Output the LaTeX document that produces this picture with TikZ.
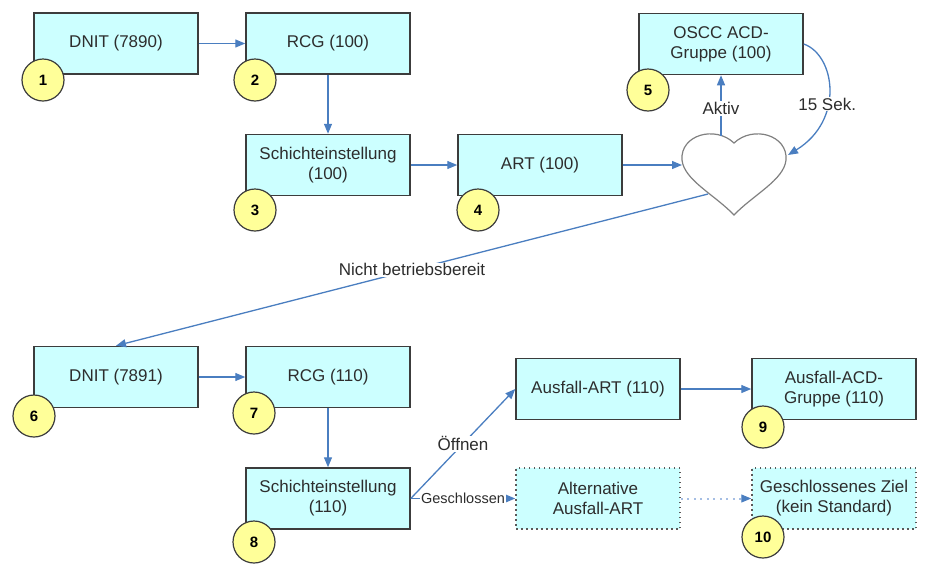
\documentclass[tikz,border=0pt]{standalone}
\usepackage{fontspec}
\setmainfont{Liberation Sans}
\usetikzlibrary{arrows.meta}

\definecolor{boxfill}{RGB}{204,255,255}
\definecolor{numfill}{RGB}{255,255,153}
\definecolor{linkblue}{RGB}{74,126,192}
\definecolor{dotblue}{RGB}{165,190,228}
\definecolor{edgegray}{RGB}{60,60,60}
\definecolor{textgray}{RGB}{45,45,45}

\begin{document}
\begin{tikzpicture}[x=1pt,y=-1pt,
	box/.style={draw=edgegray,line width=1.5pt,fill=boxfill,minimum width=164pt,minimum height=61pt,align=center,text=textgray,font=\fontsize{17}{20}\selectfont},
	altbox/.style={box,draw=edgegray!85,dash pattern=on 1.5pt off 3.5pt},
	num/.style={circle,draw=edgegray,line width=1.2pt,fill=numfill,minimum size=42pt,inner sep=0pt,text=black,font=\fontsize{15}{18}\selectfont\bfseries},
	link/.style={draw=linkblue,line width=1.3pt,-{Triangle[length=10pt,width=8pt]}},
	tag/.style={fill=white,inner sep=1pt,text=textgray,font=\fontsize{17}{20}\selectfont}]
	\useasboundingbox (0,0) rectangle (928,563);
	
	%boxes
	\node[box] (dnitA)   at (116,43.5) {DNIT (7890)};
	\node[box] (rcgA)    at (328,43.5) {RCG (100)};
	\node[box] (schichtA) at (328,165) {Schichteinstellung\\(100)};
	\node[box] (artA)    at (540,165) {ART (100)};
	\node[box] (oscc)    at (721,44)   {OSCC ACD-\\Gruppe (100)};
	\node[box] (dnitB)   at (116,377)  {DNIT (7891)};
	\node[box] (rcgB)    at (328,377)  {RCG (110)};
	\node[box] (schichtB) at (328,498.5) {Schichteinstellung\\(110)};
	\node[box] (ausfart) at (598,389)  {Ausfall-ART (110)};
	\node[box] (ausfacd) at (834,389)  {Ausfall-ACD-\\Gruppe (110)};
	\node[altbox] (altart) at (598,498.5) {Alternative\\Ausfall-ART};
	\node[altbox] (ziel)   at (834,498.5) {Geschlossenes Ziel\\(kein Standard)};
	
	%heart
	\draw[draw=gray,line width=1.2pt,fill=white] (734,143) .. controls (715,125) and (680,135) .. (682,160) .. controls (684,180) and (715,195) .. (734,215) .. controls (753,195) and (784,180) .. (786,160) .. controls (788,135) and (753,125) .. (734,143) -- cycle;
	\coordinate (hin)    at (682,165);
	\coordinate (htop)   at (721,136);
	\coordinate (hright) at (788,155);
	\coordinate (hout)   at (708,194);
	
	%numbers
	\node[num] (n1)  at (43,80)   {1};
	\node[num] (n2)  at (255,80)  {2};
	\node[num] (n3)  at (255,210) {3};
	\node[num] (n4)  at (478,210) {4};
	\node[num] (n5)  at (648,90)  {5};
	\node[num] (n6)  at (34,416)  {6};
	\node[num] (n7)  at (254,413) {7};
	\node[num] (n8)  at (254,542) {8};
	\node[num] (n9)  at (763,427) {9};
	\node[num] (n10) at (763,537) {10};
	
	%arrows, top row
	\draw[link] (dnitA) -- (rcgA);
	\draw[link] (rcgA) -- (schichtA);
	\draw[link] (schichtA) -- (artA);
	\draw[link] (artA.east) -- (hin);
	\draw[link] (htop) -- (oscc.south) node[tag,pos=0.45] {Aktiv};
	\draw[link] (oscc.east) .. controls (835,55) and (845,120) .. (hright) node[tag,pos=0.6] {15 Sek.};
	\draw[link] (hout) -- (dnitB.north) node[tag,midway] {Nicht betriebsbereit};
	
	%arrows, bottom row
	\draw[link] (dnitB) -- (rcgB);
	\draw[link] (rcgB) -- (schichtB);
	\draw[link] (schichtB.east) -- (ausfart.west) node[tag,midway] {Öffnen};
	\draw[link] (ausfart) -- (ausfacd);
	\draw[link] (schichtB) -- (altart) node[tag,midway,font=\fontsize{14.5}{17}\selectfont] {Geschlossen};
	\draw[link,draw=dotblue,line width=2pt,dash pattern=on 2pt off 4.5pt,-{Triangle[length=10pt,width=8pt,color=linkblue,line width=1pt]}] (altart) -- (ziel);
\end{tikzpicture}
\end{document}
